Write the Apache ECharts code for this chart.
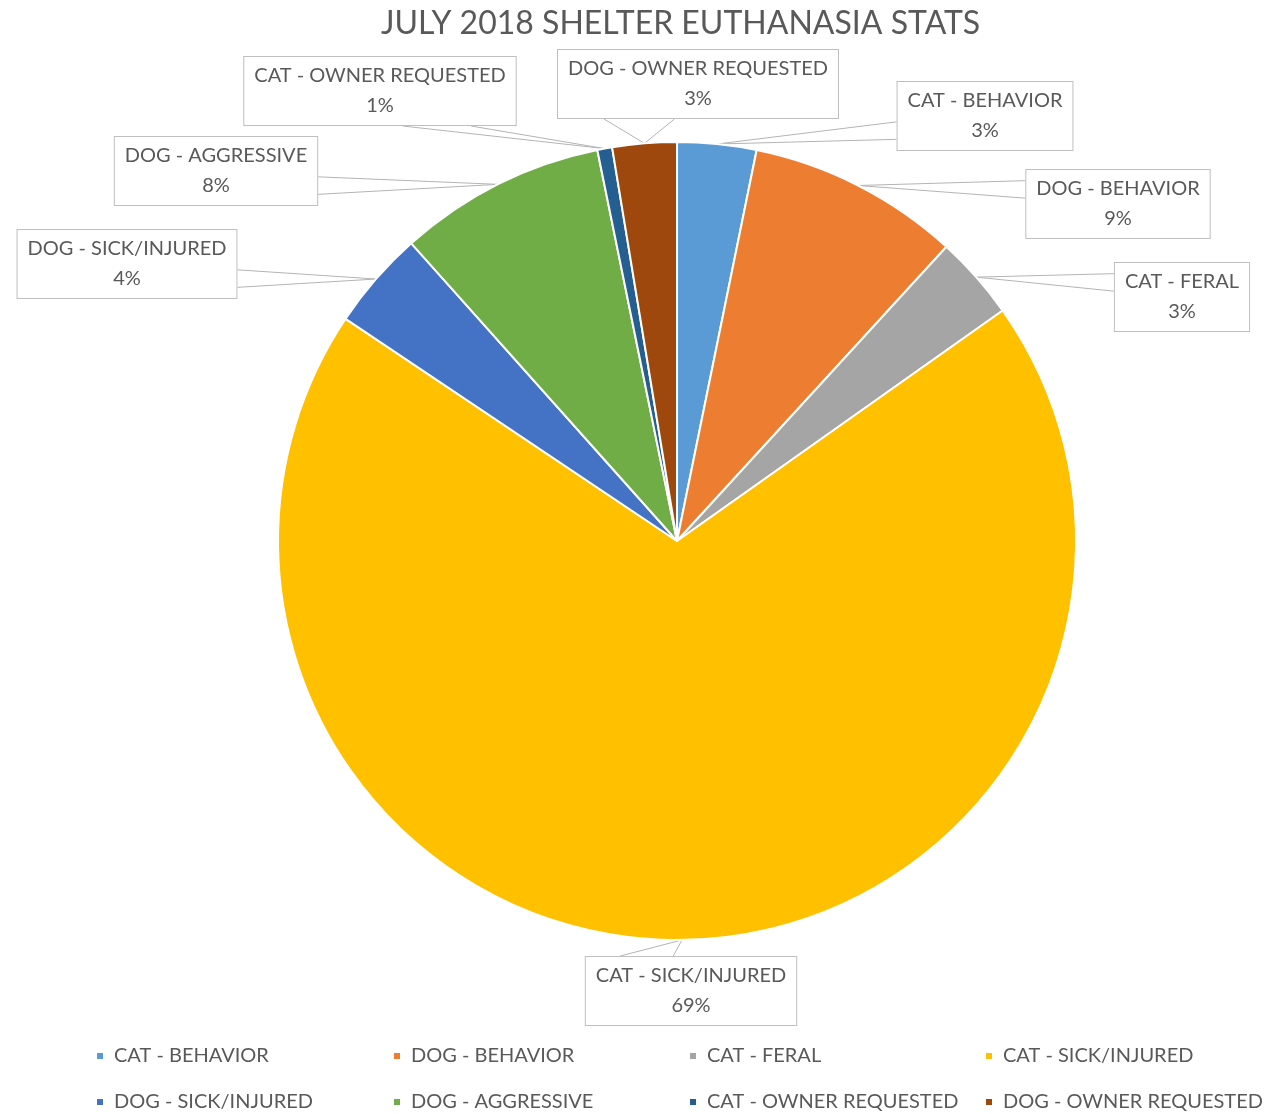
<!DOCTYPE html>
<html><head><meta charset="utf-8">
<script src="https://cdn.jsdelivr.net/npm/echarts@6/dist/echarts.min.js"></script>
<style>html,body{margin:0;padding:0;background:#fff}#c{width:1288px;height:1114px}</style>
</head><body><div id="c"></div>
<script>
const titleText = 'JULY 2018 SHELTER EUTHANASIA STATS';
const categories = ['CAT - BEHAVIOR','DOG - BEHAVIOR','CAT - FERAL','CAT - SICK/INJURED','DOG - SICK/INJURED','DOG - AGGRESSIVE','CAT - OWNER REQUESTED','DOG - OWNER REQUESTED'];
const shares = [3.2, 8.6, 3.4, 69.2, 4.0, 8.4, 0.6, 2.6];
const colors = ['#5B9BD5','#ED7D31','#A5A5A5','#FFC000','#4472C4','#70AD47','#255E91','#9E480E'];
const labelCenters = [[985,116],[1118,204],[1182,297],[691,991],[127,264],[216,171],[380,91],[698,84]];
const legendColumns = [[0,4],[1,5],[2,6],[3,7]];
const legendLeft = [95,392,688,984];

const FONT = 'Lato';

// Office-style wedge callout pointer: base on the box edge facing the tip
function wedgePoints(tip, cx, cy, w, h) {
  const dx = tip[0] - cx, dy = tip[1] - cy;
  const l = cx - w / 2, t = cy - h / 2, r = cx + w / 2, b = cy + h / 2;
  const dz = Math.abs(dy) - Math.abs(dx * h / w);
  if (dz > 0) {
    const x1 = l + w * (dx > 0 ? 7 : 2) / 12, x2 = l + w * (dx > 0 ? 10 : 5) / 12;
    const ey = dy > 0 ? b : t;
    return [[x1, ey], tip, [x2, ey]];
  } else {
    const y1 = t + h * (dy > 0 ? 7 : 2) / 12, y2 = t + h * (dy > 0 ? 10 : 5) / 12;
    const ex = dx > 0 ? r : l;
    return [[ex, y1], tip, [ex, y2]];
  }
}

const chart = echarts.init(document.getElementById('c'));
chart.setOption({
  animation: false,
  color: colors,
  title: {
    text: titleText, left: 376, top: 3,
    textStyle: {fontFamily: FONT, fontSize: 32, fontWeight: 'normal', color: '#595959'}
  },
  legend: legendColumns.map((col, i) => ({
    orient: 'vertical', left: legendLeft[i], top: 1046, padding: 0, height: 68,
    icon: 'rect', itemWidth: 8, itemHeight: 8, itemGap: 26,
    selectedMode: false,
    data: col.map(k => categories[k]),
    textStyle: {fontFamily: FONT, fontSize: 20, lineHeight: 20, color: '#595959', padding: [0, 0, 0, 5]}
  })),
  series: [{
    type: 'pie',
    center: [677, 541], radius: 399,
    startAngle: 90, clockwise: true,
    itemStyle: {borderColor: '#fff', borderWidth: 2},
    label: {
      show: true,
      formatter: p => p.name + '\n' + Math.round(p.percent) + '%',
      fontFamily: FONT, fontSize: 20, lineHeight: 30, color: '#595959',
      backgroundColor: '#fff', borderColor: '#bfbfbf', borderWidth: 1,
      padding: [4, 10], align: 'center'
    },
    labelLine: {show: true, length: 20, length2: 20, lineStyle: {color: '#b4b4b4', width: 1}},
    labelLayout: p => {
      const c = labelCenters[p.dataIndex];
      const res = {x: c[0], y: c[1], align: 'center', verticalAlign: 'middle'};
      if (p.labelLinePoints && p.labelLinePoints.length) {
        const tip = p.labelLinePoints[0];
        res.labelLinePoints = wedgePoints([tip[0], tip[1]], c[0], c[1], p.labelRect.width, p.labelRect.height);
      }
      return res;
    },
    emphasis: {disabled: true},
    data: categories.map((n, i) => ({name: n, value: shares[i]}))
  }]
});
</script></body></html>
